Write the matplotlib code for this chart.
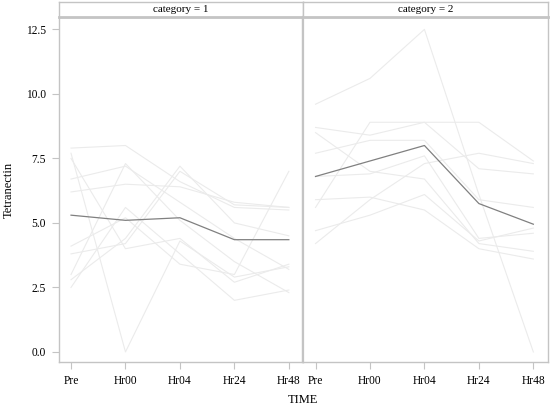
import numpy as np
import matplotlib
matplotlib.use('Agg')
import matplotlib.pyplot as plt

plt.rcParams['font.family'] = ['Liberation Serif', 'DejaVu Serif']

times = ['Pre', 'Hr00', 'Hr04', 'Hr24', 'Hr48']

# individual subjects, category 1
cat1_subjects = [
    [7.9, 8.0, 6.6, 5.6, 5.5],
    [7.7, 0.0, 4.3, 2.9, 3.3],
    [6.2, 6.5, 6.4, 5.8, 5.6],
    [6.7, 7.2, 5.8, 4.4, 3.2],
    [3.0, 7.3, 5.1, 3.5, 2.3],
    [2.5, 5.6, 3.8, 2.0, 2.4],
    [2.8, 4.4, 7.2, 5.0, 4.5],
    [3.8, 4.2, 7.0, 5.7, 5.6],
    [4.1, 5.2, 3.4, 3.0, 7.0],
    [7.5, 4.0, 4.4, 2.7, 3.4],
]
cat1_mean = [5.3, 5.1, 5.2, 4.35, 4.35]

# individual subjects, category 2
cat2_subjects = [
    [9.6, 10.6, 12.5, 6.1, 0.0],
    [5.6, 8.9, 8.9, 8.9, 7.4],
    [8.7, 8.4, 8.9, 7.1, 6.9],
    [8.5, 7.0, 6.7, 4.2, 3.9],
    [7.7, 8.2, 8.2, 5.9, 5.6],
    [5.9, 6.0, 5.5, 4.0, 3.6],
    [4.2, 5.9, 7.3, 7.7, 7.3],
    [4.7, 5.3, 6.1, 4.3, 4.8],
    [6.8, 6.9, 7.6, 4.4, 4.6],
]
cat2_mean = [6.8, 7.4, 8.0, 5.75, 4.95]

yticks = [0.0, 2.5, 5.0, 7.5, 10.0, 12.5]

frame_col = '#c4c4c4'
W, H = 550, 408

fig = plt.figure(figsize=(5.5, 4.08), dpi=100)

panels = [
    ('category = 1', cat1_subjects, cat1_mean, 58.5),
    ('category = 2', cat2_subjects, cat2_mean, 303.0),
]
pw = 244.5
top_px, bot_px, strip_top = 17.0, 362.0, 2.0
x = np.arange(len(times))

axes = []
for title, subjects, mean, left in panels:
    ax = fig.add_axes([left / W, 1 - bot_px / H, pw / W, (bot_px - top_px) / H])
    for s in subjects:
        ax.plot(x, s, color='#ebebeb', lw=0.8, zorder=1)
    ax.plot(x, mean, color='#808080', lw=0.9, zorder=2)
    ax.set_xlim(-0.23, 4.26)
    ax.set_ylim(-0.39, 12.98)
    ax.set_xticks(x)
    ax.set_xticklabels(times)
    ax.set_yticks(yticks)
    for sp in ax.spines.values():
        sp.set_color(frame_col)
        sp.set_linewidth(1.0)
    ax.tick_params(direction='out', length=5, width=0.8, color=frame_col,
                   labelsize=8.3, pad=4)
    # strip on top
    sax = fig.add_axes([left / W, 1 - top_px / H, pw / W, (top_px - strip_top) / H])
    sax.set_xticks([])
    sax.set_yticks([])
    for sp in sax.spines.values():
        sp.set_color(frame_col)
        sp.set_linewidth(1.0)
    sax.spines['bottom'].set_linewidth(2.0)
    sax.text(0.5, 0.5, title, ha='center', va='center', fontsize=8,
             transform=sax.transAxes)
    axes.append(ax)

axes[1].tick_params(axis='y', left=False, labelleft=False)
axes[0].spines['right'].set_linewidth(1.6)
axes[1].spines['left'].set_linewidth(1.6)

axes[0].set_ylabel('Tetranectin', fontsize=9, labelpad=8)
fig.text(303 / W, 1 - 400 / H, 'TIME', ha='center', va='center', fontsize=9)

fig.savefig('out.png', dpi=100)
